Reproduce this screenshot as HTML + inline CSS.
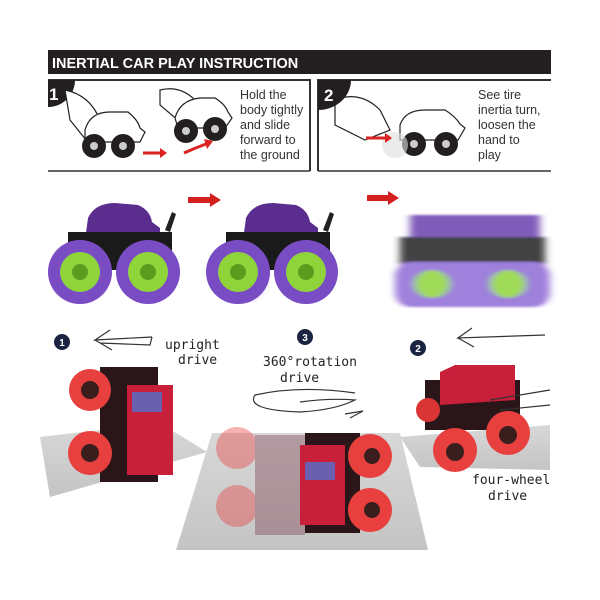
<!DOCTYPE html>
<html><head><meta charset="utf-8"><style>
html,body{margin:0;padding:0;background:#fff;}
svg{display:block;}
text{font-family:"Liberation Sans",sans-serif;}
.hw{font-family:"DejaVu Sans Mono","Liberation Mono",monospace;font-size:13px;fill:#222;}
</style></head><body>
<svg width="600" height="600" viewBox="0 0 600 600" xmlns="http://www.w3.org/2000/svg">
<defs>
<filter id="b1"><feGaussianBlur stdDeviation="4 1"/></filter>
<linearGradient id="fl" x1="0" y1="0" x2="0" y2="1"><stop offset="0" stop-color="#d8d8d8"/><stop offset="1" stop-color="#c4c4c4"/></linearGradient>
</defs>
<rect x="48" y="50" width="503" height="24" fill="#231f20"/>
<text x="52" y="68" font-size="14.5" font-weight="bold" fill="#fff">INERTIAL CAR PLAY INSTRUCTION</text>
<path d="M48 80 H310 V171" stroke="#333" stroke-width="2" fill="none"/>
<line x1="48" y1="171" x2="310" y2="171" stroke="#333" stroke-width="1.5"/>
<path d="M48 80 H75 A27 27 0 0 1 48 107 Z" fill="#231f20"/>
<text x="49" y="100" font-size="17" font-weight="bold" fill="#fff">1</text>
<g stroke="#222" stroke-width="1.2" fill="#fff">
<path d="M65 90 Q90 95 100 120 L110 140 L90 145 L70 120 Z"/>
<path d="M85 130 Q90 112 110 112 L128 112 Q138 120 140 128 L145 132 L140 142 L85 142 Z"/>
<path d="M160 90 Q180 85 195 100 L205 118 L180 122 L160 105 Z"/>
<path d="M175 118 Q180 100 200 98 L215 98 Q225 104 228 112 L232 118 L225 128 L178 128 Z"/>
<path d="M335 100 Q360 90 380 110 L390 130 L365 140 L335 125 Z"/>
<path d="M400 125 Q405 110 425 110 L445 110 Q455 116 460 124 L465 128 L458 140 L400 140 Z"/>
</g>
<g fill="#231f20">
<circle cx="94" cy="146" r="12"/><circle cx="123" cy="146" r="12"/>
<circle cx="186" cy="131" r="12"/><circle cx="215" cy="129" r="12"/>
<circle cx="414" cy="144" r="12"/><circle cx="446" cy="144" r="12"/>
</g>
<g fill="#ccc"><circle cx="94" cy="146" r="4"/><circle cx="123" cy="146" r="4"/><circle cx="186" cy="131" r="4"/><circle cx="215" cy="129" r="4"/><circle cx="414" cy="144" r="4"/><circle cx="446" cy="144" r="4"/></g>
<circle cx="395" cy="145" r="13" fill="#ddd" opacity="0.6"/>
<path d="M143 153 H160" stroke="#d22" stroke-width="3"/><path d="M160 148 L167 153 L160 158Z" fill="#d22"/>
<path d="M184 153 Q195 148 206 144" stroke="#d22" stroke-width="3" fill="none"/><path d="M204 139 L213 141 L207 149Z" fill="#d22"/>
<path d="M366 138 H385" stroke="#d22" stroke-width="3"/><path d="M385 133 L392 138 L385 143Z" fill="#d22"/>
<g font-size="12.5" fill="#333">
<text x="240" y="99">Hold the</text><text x="240" y="114">body tightly</text><text x="240" y="129">and slide</text><text x="240" y="144">forward to</text><text x="240" y="159">the ground</text>
<text x="478" y="99">See tire</text><text x="478" y="114">inertia turn,</text><text x="478" y="129">loosen the</text><text x="478" y="144">hand to</text><text x="478" y="159">play</text>
</g>
<path d="M318 171 V80 H551" stroke="#333" stroke-width="2" fill="none"/>
<line x1="318" y1="171" x2="551" y2="171" stroke="#333" stroke-width="1.5"/>
<path d="M318 80 H351 A33 30 0 0 1 318 110 Z" fill="#231f20"/>
<text x="324" y="101" font-size="17" font-weight="bold" fill="#fff">2</text>
<g id="pc">
<path d="M85 240 L88 218 Q95 203 115 203 L138 205 Q150 210 152 222 L160 228 L160 250 L85 250 Z" fill="#5b2d8e"/>
<rect x="68" y="232" width="104" height="38" fill="#1a1a1a"/>
<path d="M165 230 L172 212 L176 214 L170 232Z" fill="#222"/>
<circle cx="80" cy="272" r="32" fill="#7a4cc4"/><circle cx="80" cy="272" r="20" fill="#8fd43a"/><circle cx="80" cy="272" r="8" fill="#5c9b1e"/>
<circle cx="148" cy="272" r="32" fill="#7a4cc4"/><circle cx="148" cy="272" r="20" fill="#8fd43a"/><circle cx="148" cy="272" r="8" fill="#5c9b1e"/>
</g>
<rect x="230" y="235" width="30" height="8" fill="#555" opacity="0.5" filter="url(#b1)"/>
<ellipse cx="245" cy="272" rx="22" ry="30" fill="#b79be0" opacity="0.6" filter="url(#b1)"/>
<use href="#pc" transform="translate(158,0)"/>
<g filter="url(#b1)" opacity="0.85">
<rect x="410" y="215" width="130" height="22" fill="#6a3fae"/>
<rect x="400" y="237" width="145" height="28" fill="#222"/>
<rect x="395" y="262" width="155" height="45" rx="15" fill="#8f6bd6"/>
<ellipse cx="432" cy="284" rx="18" ry="14" fill="#8fd43a"/><ellipse cx="508" cy="284" rx="18" ry="14" fill="#8fd43a"/>
</g>
<path d="M188 200 H212" stroke="#d41f1f" stroke-width="6"/><path d="M210 193 L221 200 L210 207Z" fill="#d41f1f"/>
<path d="M367 198 H390" stroke="#d41f1f" stroke-width="6"/><path d="M388 191 L399 198 L388 205Z" fill="#d41f1f"/>
<polygon points="40,437 160,423 207,452 50,497" fill="url(#fl)"/>
<polygon points="212,433 400,433 428,550 176,550" fill="url(#fl)"/>
<polygon points="400,437 550,425 550,470 420,467" fill="url(#fl)"/>
<!-- left car -->
<rect x="100" y="367" width="58" height="115" fill="#2a1518"/>
<rect x="127" y="385" width="46" height="90" fill="#c8203a"/>
<rect x="132" y="392" width="30" height="20" fill="#6b5fb0"/>
<circle cx="90" cy="390" r="21" fill="#e8403e"/><circle cx="90" cy="390" r="9" fill="#3a1e1e"/>
<circle cx="90" cy="453" r="22" fill="#e8403e"/><circle cx="90" cy="453" r="9" fill="#3a1e1e"/>
<!-- center car -->
<g opacity="0.4"><circle cx="237" cy="448" r="21" fill="#e8403e"/><circle cx="237" cy="506" r="21" fill="#e8403e"/><rect x="255" y="435" width="50" height="100" fill="#7a4050"/></g>
<rect x="305" y="433" width="55" height="100" fill="#2a1518"/>
<rect x="300" y="445" width="45" height="80" fill="#c8203a"/>
<rect x="305" y="462" width="30" height="18" fill="#6b5fb0"/>
<circle cx="370" cy="456" r="22" fill="#e8403e"/><circle cx="372" cy="456" r="8" fill="#3a1e1e"/>
<circle cx="370" cy="510" r="22" fill="#e8403e"/><circle cx="372" cy="510" r="8" fill="#3a1e1e"/>
<!-- right car -->
<rect x="425" y="380" width="95" height="50" fill="#2a1518"/>
<path d="M440 372 L455 365 L515 365 L515 400 L440 405Z" fill="#c8203a"/>
<circle cx="428" cy="410" r="12" fill="#d93535"/>
<circle cx="455" cy="450" r="22" fill="#e8403e"/><circle cx="455" cy="452" r="9" fill="#3a1e1e"/>
<circle cx="508" cy="433" r="22" fill="#e8403e"/><circle cx="508" cy="435" r="9" fill="#3a1e1e"/>
<circle cx="62" cy="342" r="8" fill="#1a2440"/><text x="62" y="346" font-size="10" font-weight="bold" fill="#fff" text-anchor="middle">1</text>
<circle cx="305" cy="337" r="8" fill="#1a2440"/><text x="305" y="341" font-size="10" font-weight="bold" fill="#fff" text-anchor="middle">3</text>
<circle cx="418" cy="348" r="8" fill="#1a2440"/><text x="418" y="352" font-size="10" font-weight="bold" fill="#fff" text-anchor="middle">2</text>
<g stroke="#333" stroke-width="1.2" fill="none">
<path d="M152 337 L95 340 L110 330 M95 340 L112 350 M152 337 L150 345 L100 343"/>
<path d="M545 335 L458 338 L472 328 M458 338 L474 347"/>
<path d="M355 393 Q300 385 255 395 Q245 410 300 412 Q335 410 355 400 Q330 398 300 402 M345 414 L363 411 L350 418"/>
<path d="M490 400 L550 390 M500 410 L550 405"/>
</g>
<text class="hw" x="165" y="349">upright</text><text class="hw" x="178" y="364">drive</text>
<text class="hw" x="263" y="366">360°rotation</text><text class="hw" x="280" y="382">drive</text>
<text class="hw" x="472" y="484">four-wheel</text><text class="hw" x="488" y="500">drive</text>
</svg>
</body></html>
